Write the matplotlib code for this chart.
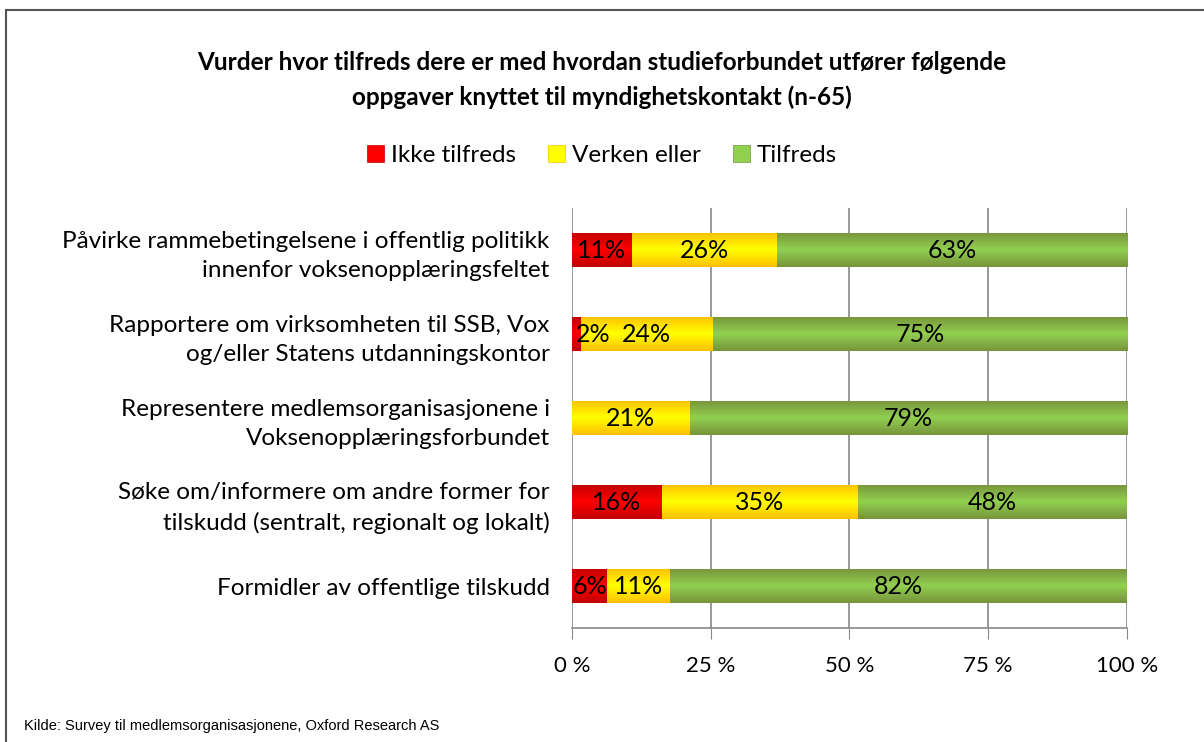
import numpy as np
import matplotlib.pyplot as plt
from matplotlib.colors import LinearSegmentedColormap
from matplotlib.patches import Patch
from matplotlib.lines import Line2D

categories = [
    "Påvirke rammebetingelsene i offentlig politikk\ninnenfor voksenopplæringsfeltet",
    "Rapportere om virksomheten til SSB, Vox\nog/eller Statens utdanningskontor",
    "Representere medlemsorganisasjonene i\nVoksenopplæringsforbundet",
    "Søke om/informere om andre former for\ntilskudd (sentralt, regionalt og lokalt)",
    "Formidler av offentlige tilskudd",
]
series_names = ["Ikke tilfreds", "Verken eller", "Tilfreds"]
ikke_tilfreds = [10.8, 1.6, 0.0, 16.2, 6.4]
verken_eller = [26.1, 23.8, 21.2, 35.4, 11.3]
tilfreds = [63.1, 74.6, 78.8, 48.4, 82.3]
x_ticks = [0, 25, 50, 75, 100]
x_tick_labels = ["0 %", "25 %", "50 %", "75 %", "100 %"]

title = ("Vurder hvor tilfreds dere er med hvordan studieforbundet utfører følgende\n"
         "oppgaver knyttet til myndighetskontakt (n-65)")
source = "Kilde: Survey til medlemsorganisasjonene, Oxford Research AS"

# (edge colour, centre colour) for the vertical gradient in each bar
palettes = [("#C00000", "#FF0000"), ("#FFC000", "#FFFF00"), ("#77933C", "#92D050")]

plt.rcParams['font.family'] = ['Lato', 'DejaVu Sans']

fig = plt.figure(figsize=(12.04, 7.42), dpi=100)
ax = fig.add_axes([0.475, 0.1536, 0.461, 0.566])

y = np.arange(len(categories))
series = [ikke_tilfreds, verken_eller, tilfreds]
left = np.zeros(len(categories))
bar_h = 0.41

ax.set_xlim(0, 100)
ax.set_ylim(len(categories) - 0.5, -0.5)

grad = np.abs(np.linspace(-1, 1, 64))[:, None]
for vals, (edge, centre) in zip(series, palettes):
    cmap = LinearSegmentedColormap.from_list("g", [centre, edge])
    bars = ax.barh(y, vals, left=left, height=bar_h, color=centre, zorder=2)
    for b, v in zip(bars, vals):
        if v <= 0:
            continue
        x0, y0 = b.get_x(), b.get_y()
        im = ax.imshow(grad, cmap=cmap, aspect='auto', vmin=0, vmax=1,
                       extent=[x0, x0 + b.get_width(), y0 + b.get_height(), y0],
                       zorder=3, interpolation='bilinear')
        im.set_clip_path(b)
        # narrow segments: keep the label inside the plot area
        if b.get_width() < 4:
            tx, ha = x0 + 0.8, 'left'
        else:
            tx, ha = x0 + b.get_width() / 2, 'center'
        ax.text(tx, y0 + b.get_height() / 2, f"{v:.0f}%",
                ha=ha, va='center', fontsize=18, color='black', zorder=4)
    left = left + np.array(vals)

ax.set_xticks(x_ticks)
ax.set_xticklabels(x_tick_labels, fontsize=16)
ax.set_yticks(y)
ax.set_yticklabels(categories, fontsize=17.5, ha='right', multialignment='right',
                   linespacing=1.45)
ax.tick_params(axis='y', length=0, pad=16)
ax.tick_params(axis='x', length=8, color='#888888', pad=12)
ax.xaxis.grid(True, color='#888888', linewidth=1.2, zorder=0)
ax.set_axisbelow(True)
for s in ['top', 'right', 'left']:
    ax.spines[s].set_visible(False)
ax.spines['bottom'].set_color('#888888')
ax.spines['bottom'].set_linewidth(1.2)

handles = [Patch(facecolor=c, edgecolor=e, linewidth=0.5) for e, c in palettes]
fig.legend(handles, series_names, loc='center', bbox_to_anchor=(0.5, 0.79), ncol=3,
           frameon=False, fontsize=17.5, handlelength=0.7, handleheight=0.7,
           handletextpad=0.3, columnspacing=1.3)

fig.text(0.5, 0.892, title, ha='center', va='center', fontsize=17.5, fontweight='bold',
         linespacing=1.55)
fig.text(0.02, 0.022, source, ha='left', va='center', fontsize=10.5,
         family=['Liberation Sans', 'DejaVu Sans'])

# frame around chart area (only the top and left edges lie inside the image)
fig.add_artist(Line2D([0.005, 1.0], [0.987, 0.987], color='#555555', linewidth=1.5))
fig.add_artist(Line2D([0.005, 0.005], [0.0, 0.987], color='#555555', linewidth=1.5))

fig.savefig("out.png", dpi=100)
